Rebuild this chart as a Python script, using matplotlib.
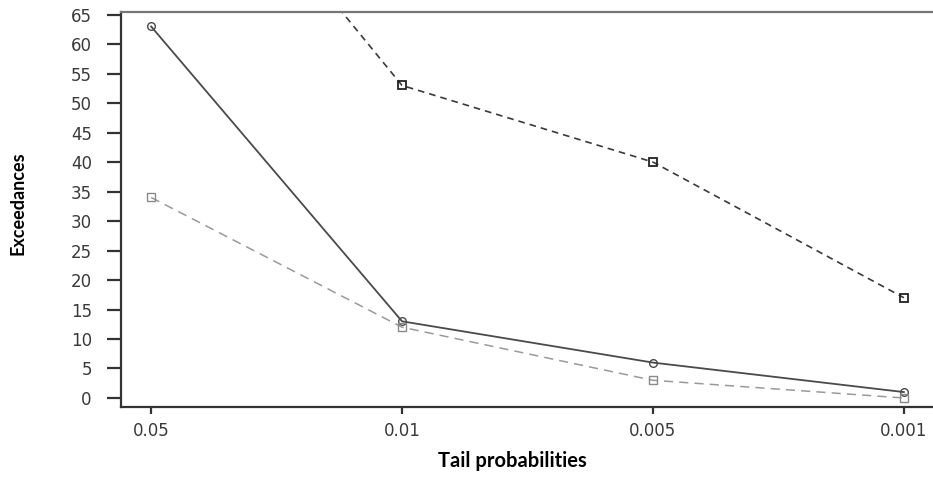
import matplotlib
matplotlib.use("Agg")
import matplotlib.pyplot as plt

plt.rcParams["font.family"] = ["DejaVu Sans"]

# data
tail_probs = ["0.05", "0.01", "0.005", "0.001"]
series_a = [63, 13, 6, 1]       # solid, circles
series_b = [34, 12, 3, 0]       # light dashed, squares
series_c = [105, 53, 40, 17]    # dark dashed, squares (first point off the top)
y_ticks = list(range(0, 70, 5))

pos = list(range(1, len(tail_probs) + 1))

fig = plt.figure(figsize=(9.33, 4.78), dpi=100)
ax = fig.add_axes([121 / 933, 1 - 407 / 478, 813 / 933, 395 / 478])

ax.plot(pos, series_a, color="#4a4a4a", lw=1.3, marker="o", ms=5.5,
        mfc="none", mec="#4a4a4a", mew=1.0)
ax.plot(pos, series_b, color="#9a9a9a", lw=1.1, ls=(0, (6, 4)), marker="s", ms=5.5,
        mfc="none", mec="#8a8a8a", mew=1.0)
ax.plot(pos, series_c, color="#3a3a3a", lw=1.2, ls=(0, (4, 3)), marker="s", ms=5.5,
        mfc="none", mec="#222222", mew=1.3)

ax.set_xlim(0.88, 4.12)
ax.set_ylim(-1.53, 65.45)
ax.set_xticks(pos)
ax.set_xticklabels(tail_probs)
ax.set_yticks(y_ticks)

for side in ["left", "bottom"]:
    ax.spines[side].set_color("#333333")
    ax.spines[side].set_linewidth(1.6)
ax.spines["top"].set_color("#777777")
ax.spines["top"].set_linewidth(1.6)
ax.spines["right"].set_visible(False)

ax.tick_params(axis="both", colors="#333333", labelcolor="#3a3a3a", width=1.6,
               labelsize=12, direction="out")
ax.tick_params(axis="y", length=10, pad=11)
ax.tick_params(axis="x", length=5, pad=6)

ax.set_xlabel("Tail probabilities", fontsize=14.5, fontweight="bold",
              family=["Lato", "DejaVu Sans"], va="top")
ax.xaxis.set_label_coords(0.481, -0.112)
ax.set_ylabel("Exceedances", fontsize=13, fontweight="bold",
              family=["Liberation Sans Narrow", "Lato", "DejaVu Sans"], va="center")
ax.yaxis.set_label_coords(-0.127, 0.515)

plt.savefig("out.png", dpi=100)
